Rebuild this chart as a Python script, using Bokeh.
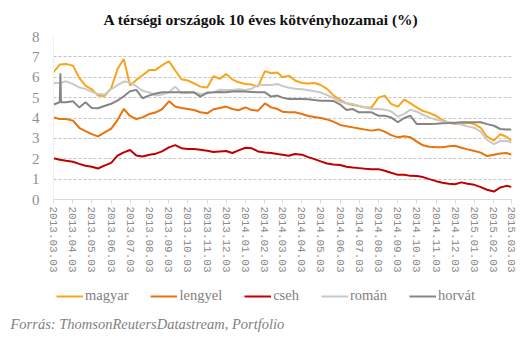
import math
import pandas as pd
from bokeh.plotting import figure
from bokeh.layouts import column
from bokeh.models import FixedTicker, Legend, LegendItem, Title, ColumnDataSource, Range1d
from bokeh.embed import file_html
from bokeh.resources import INLINE

title_text = "A térségi országok 10 éves kötvényhozamai (%)"
source_text = "Forrás: ThomsonReutersDatastream, Portfolio"

tick_labels = [
    "2013.03.03", "2013.04.03", "2013.05.03", "2013.06.03", "2013.07.03",
    "2013.08.03", "2013.09.03", "2013.10.03", "2013.11.03", "2013.12.03",
    "2014.01.03", "2014.02.03", "2014.03.03", "2014.04.03", "2014.05.03",
    "2014.06.03", "2014.07.03", "2014.08.03", "2014.09.03", "2014.10.03",
    "2014.11.03", "2014.12.03", "2015.01.03", "2015.02.03", "2015.03.03",
]

# sample dates: 3rd, 13th, 23rd of each month, 2013-03-03 .. 2015-03-03
dates = []
for lab in tick_labels:
    y, m, _ = lab.split(".")
    for d in ("03", "13", "23"):
        dates.append(f"{y}-{m}-{d}")
dates = dates[:-2]

series_names = ["magyar", "lengyel", "cseh", "román", "horvát"]
series_colors = ["#F9A51A", "#E8720C", "#C00000", "#C9C9C9", "#858585"]

magyar = [
    6.25, 6.62, 6.65, 6.57, 5.97, 5.59, 5.41, 5.10, 5.08, 5.46,
    6.40, 6.90, 5.60, 5.87, 6.10, 6.36, 6.36, 6.59, 6.78, 6.33,
    5.90, 5.84, 5.70, 5.54, 5.50, 6.05, 5.92, 6.16, 5.90, 5.75,
    5.67, 5.64, 5.54, 6.30, 6.20, 6.23, 6.00, 6.08, 5.84, 5.72,
    5.69, 5.72, 5.62, 5.43, 5.11, 4.89, 4.72, 4.64, 4.59, 4.52,
    4.52, 5.00, 5.10, 4.69, 4.56, 4.90, 4.72, 4.52, 4.34, 4.25,
    4.10, 3.90, 3.77, 3.70, 3.70, 3.77, 3.70, 3.52, 3.08, 2.89,
    3.21, 3.08, 2.89,
]
lengyel = [
    4.03, 3.95, 3.95, 3.87, 3.52, 3.36, 3.21, 3.10, 3.28, 3.48,
    3.90, 4.44, 4.10, 3.95, 4.03, 4.20, 4.28, 4.43, 4.82, 4.56,
    4.49, 4.44, 4.39, 4.28, 4.23, 4.43, 4.49, 4.56, 4.44, 4.38,
    4.52, 4.39, 4.36, 4.72, 4.52, 4.44, 4.31, 4.28, 4.28, 4.20,
    4.10, 4.05, 4.00, 3.93, 3.82, 3.66, 3.59, 3.54, 3.48, 3.43,
    3.38, 3.44, 3.33, 3.16, 3.05, 3.10, 3.05, 2.84, 2.66, 2.59,
    2.56, 2.57, 2.61, 2.64, 2.54, 2.46, 2.38, 2.30, 2.13, 2.20,
    2.26, 2.28, 2.20,
]
cseh = [
    2.02, 1.95, 1.90, 1.85, 1.75, 1.66, 1.61, 1.52, 1.66, 1.80,
    2.15, 2.31, 2.43, 2.16, 2.11, 2.20, 2.25, 2.36, 2.56, 2.67,
    2.52, 2.48, 2.48, 2.44, 2.39, 2.33, 2.36, 2.38, 2.28, 2.41,
    2.54, 2.51, 2.36, 2.31, 2.28, 2.23, 2.20, 2.15, 2.23, 2.20,
    2.08, 1.98, 1.87, 1.77, 1.72, 1.69, 1.61, 1.57, 1.54, 1.51,
    1.49, 1.49, 1.41, 1.31, 1.21, 1.21, 1.16, 1.15, 1.10, 1.00,
    0.90, 0.82, 0.77, 0.75, 0.84, 0.77, 0.72, 0.61, 0.48, 0.39,
    0.59, 0.67, 0.62,
]
roman = [
    5.72, 5.72, 5.80, 5.67, 5.50, 5.43, 5.28, 5.18, 5.15, 5.41,
    5.61, 5.79, 5.75, 5.56, 5.34, 5.25, 5.11, 5.15, 5.26, 5.54,
    5.21, 5.23, 5.25, 5.18, 5.20, 5.26, 5.39, 5.38, 5.38, 5.41,
    5.38, 5.44, 5.62, 5.62, 5.62, 5.67, 5.57, 5.49, 5.44, 5.41,
    5.36, 5.31, 5.25, 5.13, 4.98, 4.80, 4.72, 4.69, 4.59, 4.52,
    4.44, 4.44, 4.41, 4.33, 4.07, 4.20, 4.41, 4.31, 4.16, 4.02,
    3.93, 3.85, 3.79, 3.74, 3.67, 3.59, 3.51, 3.33, 2.92, 2.72,
    2.87, 2.87, 2.80,
]
horvat = [
    4.66, 4.77, 4.77, 4.82, 4.52, 4.77, 4.49, 4.48, 4.59, 4.70,
    4.85, 5.07, 5.31, 5.38, 4.97, 5.11, 5.20, 5.26, 5.26, 5.26,
    5.26, 5.26, 5.26, 5.05, 5.25, 5.26, 5.28, 5.26, 5.30, 5.31,
    5.30, 5.28, 5.26, 5.26, 5.05, 5.10, 5.00, 4.93, 4.93, 4.93,
    4.92, 4.88, 4.85, 4.85, 4.84, 4.66, 4.39, 4.44, 4.28, 4.28,
    4.28, 4.11, 4.11, 4.03, 3.79, 4.00, 4.11, 3.70, 3.70, 3.70,
    3.72, 3.74, 3.75, 3.77, 3.79, 3.79, 3.79, 3.79, 3.70, 3.62,
    3.46, 3.43, 3.43,
]
horvat_extra_dates = ["2013-03-14", "2013-03-15"]
horvat_extra_values = [6.20, 4.77]

start = pd.Timestamp("2013-03-03")


def day_index(ds):
    return [(pd.Timestamp(d) - start).days for d in ds]


x_common = day_index(dates)
hx = x_common + day_index(horvat_extra_dates)
hy = horvat + horvat_extra_values
order = sorted(range(len(hx)), key=lambda i: hx[i])
hx = [hx[i] for i in order]
hy = [hy[i] for i in order]

tick_pos = day_index([t.replace(".", "-") for t in tick_labels])

W = 529
H_MAIN = 280
H_FOOT = 341 - H_MAIN
BORDER_L, BORDER_R = 53, 18

p = figure(width=W, height=H_MAIN, output_backend="svg", toolbar_location=None,
           x_range=Range1d(0, tick_pos[-1]), y_range=Range1d(0, 8),
           min_border_left=BORDER_L, min_border_right=BORDER_R, min_border_top=36,
           min_border_bottom=H_MAIN - 199)
p.outline_line_color = None
p.background_fill_color = "white"
p.border_fill_color = "white"

all_series = [
    (x_common, magyar),
    (x_common, lengyel),
    (x_common, cseh),
    (x_common, roman),
    (hx, hy),
]
for (xs, ys), c in zip(all_series, series_colors):
    src = ColumnDataSource(dict(x=xs, y=ys))
    p.line("x", "y", source=src, line_color=c, line_width=2)

# grid
p.xgrid.visible = False
p.ygrid.ticker = FixedTicker(ticks=[1, 2, 3, 4, 5, 6, 7, 8])
p.ygrid.grid_line_color = "#c4c4c4"
p.ygrid.grid_line_dash = "3 2"
p.ygrid.grid_line_width = 1

# y axis
p.yaxis.ticker = FixedTicker(ticks=[0, 1, 2, 3, 4, 5, 6, 7, 8])
p.yaxis.axis_line_color = "#eeeeee"
p.yaxis.major_tick_line_color = None
p.yaxis.minor_tick_line_color = None
p.yaxis.major_label_text_font = "Liberation Serif"
p.yaxis.major_label_text_font_size = "15px"
p.yaxis.major_label_text_color = "#8f8f8f"
p.yaxis.major_label_standoff = 8

# x axis
p.xaxis.ticker = FixedTicker(ticks=tick_pos)
p.xaxis.major_label_overrides = {t: lab for t, lab in zip(tick_pos, tick_labels)}
p.xaxis.major_label_orientation = "vertical"
p.xaxis.axis_line_color = "#d9d9d9"
p.xaxis.major_tick_line_color = "#d9d9d9"
p.xaxis.major_tick_out = 4
p.xaxis.major_tick_in = 0
p.xaxis.minor_tick_line_color = None
p.xaxis.major_label_text_font = "Liberation Mono"
p.xaxis.major_label_text_font_size = "11px"
p.xaxis.major_label_text_color = "#8a8a8a"
p.xaxis.major_label_standoff = 3

# title above
p.title = Title(text=title_text, align="left", offset=50,
                text_font="Liberation Serif", text_font_style="bold",
                text_font_size="15.5px", text_color="#111111", standoff=17)

# footer figure: legend + source (frame aligned with the main plot's frame)
FOOT_FRAME_H = 34
f = figure(width=W, height=H_FOOT, output_backend="svg", toolbar_location=None,
           x_range=Range1d(0, 1), y_range=Range1d(0, 1),
           x_axis_location=None, y_axis_location=None,
           min_border_left=BORDER_L, min_border_right=BORDER_R, min_border_top=0,
           min_border_bottom=H_FOOT - FOOT_FRAME_H)
f.outline_line_color = None
f.xgrid.visible = False
f.ygrid.visible = False
f.background_fill_color = "white"
f.border_fill_color = "white"

items = []
for n, c in zip(series_names, series_colors):
    r = f.line(x=[math.nan], y=[math.nan], line_color=c, line_width=2)
    items.append(LegendItem(label=n, renderers=[r]))

legend = Legend(items=items, orientation="horizontal", location=(3, 10),
                glyph_width=27, glyph_height=16, label_standoff=2, spacing=22,
                padding=0, margin=0, border_line_alpha=0, background_fill_alpha=0,
                label_text_font="Liberation Serif", label_text_font_size="14.5px",
                label_text_color="#7f7f7f", label_height=16)
f.add_layout(legend, "center")

src_title = Title(text=source_text, align="left", offset=-43, standoff=0,
                  vertical_align="middle",
                  text_font="Liberation Serif", text_font_style="italic",
                  text_font_size="14.5px", text_color="#7f7f7f")
f.add_layout(src_title, "below")

layout = column(p, f, spacing=0)
open("out.html", "w").write(file_html(layout, INLINE))
